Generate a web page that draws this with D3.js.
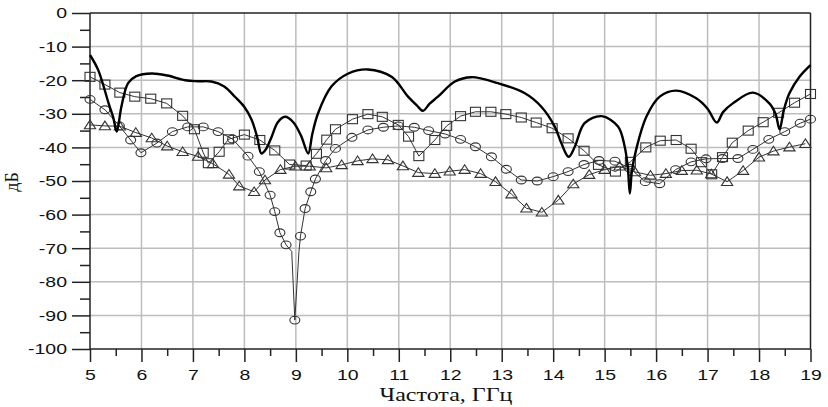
<!DOCTYPE html>
<html><head><meta charset="utf-8">
<script src="https://cdn.jsdelivr.net/npm/d3@7"></script>
<style>
html,body{margin:0;padding:0;background:#fff;}
svg{display:block;}
</style></head>
<body>
<svg id="chart" width="828" height="407"></svg>
<script>
// ---- data ----
const xTicks = [5,6,7,8,9,10,11,12,13,14,15,16,17,18,19];
const yTicks = [0,-10,-20,-30,-40,-50,-60,-70,-80,-90,-100];
const xLabel = "Частота, ГГц";
const yLabel = "дБ";

// thick solid curve (no markers)
const thickF  = [5.0,5.16,5.36,5.45,5.52,5.61,5.74,5.9,6.2,6.5,6.85,7.1,7.36,7.6,7.82,8.0,8.14,8.25,8.33,8.42,8.53,8.65,8.79,8.95,9.1,9.24,9.32,9.43,9.69,10.02,10.4,10.86,11.18,11.35,11.47,11.6,11.76,12.09,12.41,12.93,13.45,13.77,14.03,14.16,14.3,14.42,14.61,14.94,15.26,15.39,15.45,15.49,15.53,15.61,15.81,16.07,16.39,16.78,17.0,17.18,17.3,17.49,17.88,18.2,18.32,18.4,18.48,18.59,18.79,19.0];
const thickDb = [-12.5,-17,-26.8,-31,-35.3,-27.9,-20.9,-18.8,-18,-18.6,-20,-20.3,-20.4,-21.8,-25,-28,-31.8,-37,-41.8,-40.5,-36.8,-32.5,-30.9,-32.5,-36.5,-41.8,-36,-29.9,-21.9,-18,-16.8,-19,-24.9,-27.5,-29.1,-27,-24.9,-20.4,-19.1,-20.9,-23.9,-27.9,-33.8,-38.8,-42.8,-39.8,-32.8,-30.7,-33.8,-39.8,-46,-53.7,-47,-40.8,-30.9,-24.9,-23.1,-25.4,-28.5,-32.6,-29.5,-26.9,-23.7,-26.9,-30,-34.6,-29,-23.9,-18.9,-15.5];

// square-marker series
const sqF  = [5.0,5.29,5.58,5.87,6.18,6.49,6.8,7.03,7.2,7.3,7.51,7.69,8.0,8.3,8.59,8.88,9.2,9.4,9.6,9.77,10.1,10.4,10.68,10.99,11.19,11.39,11.7,11.93,12.2,12.49,12.79,13.08,13.38,13.67,13.98,14.29,14.6,14.88,15.21,15.5,15.8,16.08,16.39,16.68,16.88,17.08,17.29,17.48,17.79,18.08,18.38,18.69,19.0];
const sqDb = [-19,-21.3,-23.7,-24.9,-25.5,-26.9,-30.6,-34.6,-41.6,-44.7,-41.3,-37.6,-36.2,-37.8,-40.9,-45.1,-45.4,-41.9,-37.7,-34.6,-31.6,-30.1,-30.9,-33.3,-36.8,-42.6,-37.8,-33.6,-30.7,-29.4,-29.4,-30.1,-31.1,-32.6,-34.3,-37.3,-41,-45.2,-47.2,-44.3,-40,-38,-37.8,-40.4,-44.4,-48,-42.9,-38.6,-35,-32.5,-29.7,-26.7,-24.1];

// circle-marker series
const ciF  = [5.0,5.29,5.57,5.79,5.99,6.3,6.6,6.9,7.2,7.49,7.77,8.07,8.29,8.5,8.59,8.69,8.81,8.98,9.09,9.18,9.29,9.38,9.58,9.77,10.09,10.4,10.7,10.99,11.3,11.58,11.9,12.2,12.49,12.8,13.09,13.38,13.69,14.0,14.29,14.6,14.89,15.2,15.49,15.79,16.07,16.38,16.68,16.97,17.29,17.59,17.88,18.19,18.5,18.8,19.0];
const ciDb = [-25.7,-28.8,-33.6,-37.8,-41.6,-38.7,-35.3,-33.9,-33.9,-35.3,-37.5,-42.6,-47.2,-54.2,-59.1,-65.4,-69,-91.4,-66.4,-58.2,-53.2,-49.4,-43.9,-40.3,-37,-34.8,-34,-33.6,-34,-35,-36,-37.6,-39.8,-42.8,-46.5,-49.7,-50,-48.7,-47.2,-45.1,-43.9,-44.1,-46.2,-50.2,-50.8,-46.6,-44.3,-43.4,-43.3,-43.3,-40.6,-37.6,-35.3,-32.8,-31.6];
// circle series points on the line without a marker
const ciExtraF  = [8.92,9.06];
const ciExtraDb = [-71,-71];

// triangle-marker series
const trF  = [5.0,5.29,5.58,5.89,6.2,6.5,6.8,7.1,7.39,7.7,7.9,8.19,8.4,8.7,8.99,9.27,9.59,9.89,10.2,10.49,10.79,11.08,11.38,11.7,11.99,12.28,12.59,12.88,13.19,13.48,13.78,14.1,14.39,14.7,15.0,15.29,15.59,15.89,16.19,16.5,16.79,17.07,17.38,17.69,18.0,18.28,18.59,18.9];
const trDb = [-33.3,-33.6,-33.7,-35.6,-37.2,-39.6,-41.3,-42.7,-44.9,-48,-51.5,-53.2,-49.7,-46.6,-45.6,-45.6,-46.1,-45.2,-44,-43.4,-43.7,-45.5,-47.5,-47.8,-47.1,-46.6,-47.8,-50.2,-53.9,-58.1,-59.3,-55.7,-50.9,-48.1,-46.6,-45.6,-47.3,-48.3,-47.8,-46.9,-46.8,-47.9,-50.2,-46.9,-42.9,-41.1,-39.9,-38.9];

// ---- drawing ----
const svg = d3.select("#chart");
const L = 90, R = 810.5, T = 13, B = 349;
const x = d3.scaleLinear().domain([5,19]).range([L,R]);
const y = d3.scaleLinear().domain([0,-100]).range([T,B]);
const zip = (a,b) => a.map((v,i)=>[v,b[i]]);
const SX = 1.3; // horizontal stretch of the text in the reference

// grid
const grid = svg.append("g").attr("stroke","#bdbdbd").attr("stroke-width",1.5);
grid.selectAll("line.v").data(xTicks.slice(1,-1)).join("line")
  .attr("x1",d=>x(d)).attr("x2",d=>x(d)).attr("y1",T).attr("y2",B);
grid.selectAll("line.h").data(yTicks.slice(1,-1)).join("line")
  .attr("x1",L).attr("x2",R).attr("y1",d=>y(d)).attr("y2",d=>y(d));

// frame top/right
svg.append("line").attr("x1",L).attr("x2",R).attr("y1",T).attr("y2",T).attr("stroke","#222").attr("stroke-width",1.5);
svg.append("line").attr("x1",R).attr("x2",R).attr("y1",T).attr("y2",B).attr("stroke","#222").attr("stroke-width",1.5);

const tickFont = "'Liberation Sans', Arial, sans-serif";
// y axis
const yAx = svg.append("g").attr("transform",`translate(${L},0)`)
  .call(d3.axisLeft(y).tickValues(yTicks).tickSize(18).tickPadding(5).tickFormat(d=>String(d)));
const yMinor = svg.append("g").attr("transform",`translate(${L},0)`)
  .call(d3.axisLeft(y).tickValues(d3.range(-5,-100,-10)).tickSize(10).tickFormat(""));
// x axis
const xAx = svg.append("g").attr("transform",`translate(0,${B})`)
  .call(d3.axisBottom(x).tickValues(xTicks).tickSize(13).tickPadding(7).tickFormat(d=>String(d)));
const xMinor = svg.append("g").attr("transform",`translate(0,${B})`)
  .call(d3.axisBottom(x).tickValues(d3.range(5.5,19,1)).tickSize(7).tickFormat(""));
[yAx,yMinor,xAx,xMinor].forEach(g=>{
  g.select(".domain").remove();
  g.selectAll("line").attr("stroke","#222").attr("stroke-width",1.5);
  g.selectAll("text").attr("font-family",tickFont).attr("font-size",15).attr("fill","#111");
});
yAx.selectAll("text").attr("x",0).attr("transform",`translate(-23,0) scale(${SX},1)`);
xAx.selectAll("text").attr("transform",`scale(${SX},1)`);

// axis lines
svg.append("line").attr("x1",L).attr("x2",L).attr("y1",T).attr("y2",B).attr("stroke","#222").attr("stroke-width",1.5);
svg.append("line").attr("x1",L).attr("x2",R).attr("y1",B).attr("y2",B).attr("stroke","#222").attr("stroke-width",1.5);

// axis titles
svg.append("text").attr("transform",`translate(446,401) scale(${SX},1)`).attr("text-anchor","middle")
  .attr("font-family","'Liberation Serif', 'Times New Roman', serif").attr("font-size",18.5).attr("fill","#111").text(xLabel);
svg.append("text").attr("transform","translate(18,182) rotate(-90)").attr("text-anchor","middle")
  .attr("font-family","'Liberation Serif', 'Times New Roman', serif").attr("font-size",18).attr("fill","#111").text(yLabel);

// thin series lines
const lineLin = d3.line().x(d=>x(d[0])).y(d=>y(d[1]));
const thin = svg.append("g").attr("fill","none").attr("stroke","#333").attr("stroke-width",1);
thin.append("path").attr("d",lineLin(zip(sqF,sqDb)));
const ciAll = zip(ciF,ciDb).concat(zip(ciExtraF,ciExtraDb)).sort((a,b)=>a[0]-b[0]);
thin.append("path").attr("d",lineLin(ciAll));
thin.append("path").attr("d",lineLin(zip(trF,trDb)));

// markers
const mk = svg.append("g").attr("fill","none").attr("stroke","#333").attr("stroke-width",1.1);
mk.selectAll("rect").data(zip(sqF,sqDb)).join("rect")
  .attr("x",d=>x(d[0])-5).attr("y",d=>y(d[1])-4.5).attr("width",10).attr("height",9);
mk.selectAll("ellipse").data(zip(ciF,ciDb)).join("ellipse")
  .attr("cx",d=>x(d[0])).attr("cy",d=>y(d[1])).attr("rx",5).attr("ry",3.9);
mk.selectAll("path.tri").data(zip(trF,trDb)).join("path").attr("class","tri")
  .attr("d",d=>{const cx=x(d[0]),cy=y(d[1]);return `M${cx},${cy-4.8}L${cx+5.6},${cy+3.8}L${cx-5.6},${cy+3.8}Z`;});

// thick curve
svg.append("path").attr("d",d3.line().x(d=>x(d[0])).y(d=>y(d[1])).curve(d3.curveCatmullRom.alpha(0.5))(zip(thickF,thickDb)))
  .attr("fill","none").attr("stroke","#000").attr("stroke-width",2.4).attr("stroke-linejoin","round");
</script>
</body></html>
